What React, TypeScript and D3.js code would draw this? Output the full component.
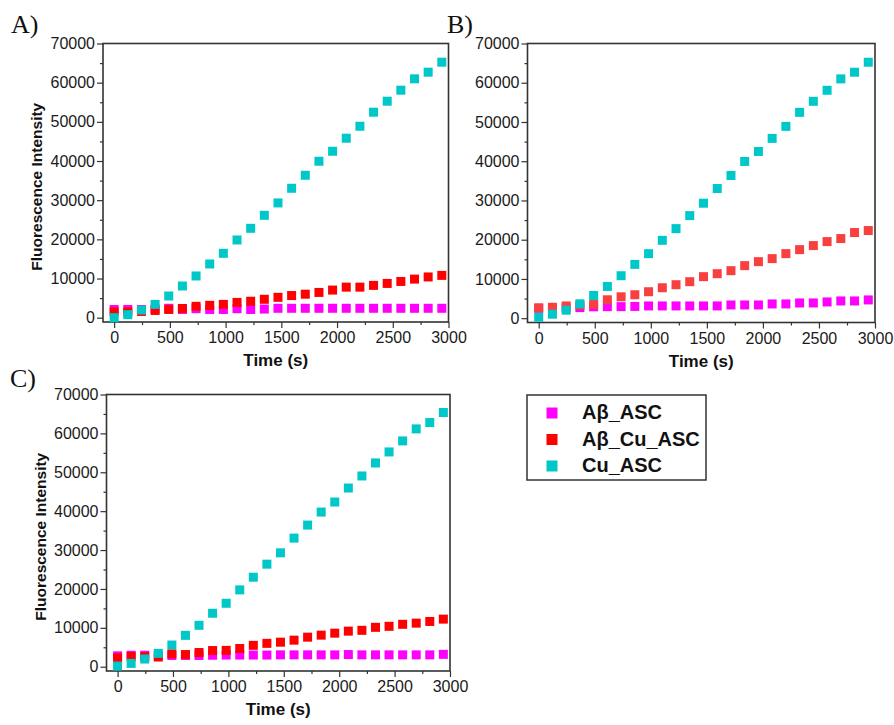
import React, { useRef, useEffect } from "react";
import * as d3 from "d3";

// sampling times (s)
const times = [0, 122.5, 245, 367.5, 490, 612.5, 735, 857.5, 980, 1102.5, 1225, 1347.5, 1470,
    1592.5, 1715, 1837.5, 1960, 2082.5, 2205, 2327.5, 2450, 2572.5, 2695, 2817.5, 2940];

const seriesNames = ["Aβ_ASC", "Aβ_Cu_ASC", "Cu_ASC"];

// panel A
const abAscA = [2100, 2100, 2100, 2200, 2400, 2100, 2300, 2100, 2100, 2300, 2100, 2200, 2400, 2400, 2400,
    2400, 2400, 2400, 2400, 2400, 2400, 2400, 2400, 2400, 2400];
const abCuAscA = [1500, 1500, 1600, 1850, 2100, 2350, 2900, 3150, 3400, 3900, 4200, 4700, 5200, 5650, 6000,
    6450, 7050, 7800, 7800, 8250, 8750, 9250, 9850, 10400, 10800];
const cuAscA = [0, 770, 1960, 3400, 5540, 8090, 10650, 13710, 16440, 19840, 22820, 26140, 29300, 33040, 36360,
    39940, 42490, 45820, 48880, 52460, 55270, 58080, 60980, 62680, 65230];

// panel B
const abAscB = [2500, 2500, 2600, 2700, 2900, 2940, 2940, 3000, 3120, 3120, 3120, 3120, 3120, 3120, 3370,
    3370, 3370, 3630, 3630, 3880, 3880, 4140, 4390, 4390, 4650];
const abCuAscB = [2650, 2780, 3120, 3300, 3540, 4690, 5450, 5970, 6740, 7760, 8530, 9300, 10580, 11340, 12110,
    13390, 14410, 15180, 16450, 17470, 18500, 19520, 20290, 21820, 22330];
const cuAscB = [250, 1020, 2040, 3660, 5790, 8090, 10820, 13710, 16440, 19840, 22820, 26140, 29300, 33040, 36360,
    39940, 42490, 45820, 48880, 52460, 55270, 58080, 60980, 62680, 65230];

// panel C
const abAscC = [2790, 2960, 2960, 2900, 2900, 2900, 2900, 2950, 3000, 3000, 3000, 3000, 3050, 3050, 3050,
    3050, 3050, 3130, 3050, 3050, 3050, 3050, 3050, 3050, 3180];
const abCuAscC = [2280, 2620, 2580, 2500, 3310, 3130, 3650, 4160, 4200, 4680, 5500, 6010, 6310, 6830, 7600,
    8120, 8630, 9150, 9360, 10130, 10390, 10910, 11210, 11640, 12240];
const cuAscC = [170, 860, 1975, 3440, 5580, 8070, 10650, 13750, 16320, 19760, 23020, 26370, 29290, 33070, 36420,
    39770, 42350, 45950, 49050, 52400, 55230, 58070, 61160, 62790, 65370];

const xTicks = [0, 500, 1000, 1500, 2000, 2500, 3000];
const xMinor = [250, 750, 1250, 1750, 2250, 2750];
const yTicks = [0, 10000, 20000, 30000, 40000, 50000, 60000, 70000];
const yMinor = [5000, 15000, 25000, 35000, 45000, 55000, 65000];

const W = 894, H = 725;
const FONT = "'Liberation Sans', Arial, sans-serif";

const panels = [
    { label: "A)", lx: 11, ly: 33, left: 103, top: 43.5, right: 448.5, bottom: 322, yTitle: true,
      red: "#ff0000", data: [abAscA, abCuAscA, cuAscA] },
    { label: "B)", lx: 447, ly: 33, left: 527.5, top: 43.5, right: 875, bottom: 322.5, yTitle: false,
      red: "#f84040", data: [abAscB, abCuAscB, cuAscB] },
    { label: "C)", lx: 10, ly: 387, left: 106.5, top: 394.5, right: 450, bottom: 671, yTitle: true,
      red: "#ff0000", data: [abAscC, abCuAscC, cuAscC] },
];

const App = () => {
    const ref = useRef();

    useEffect(() => {
        const root = d3.select(ref.current);
        root.selectAll("*").remove();
        const svg = root.append("svg")
            .attr("width", W)
            .attr("height", H)
            .style("position", "absolute")
            .style("left", 0)
            .style("top", 0)
            .style("background", "#fff");

        panels.forEach(p => {
            const x = d3.scaleLinear().domain([-100, 3000]).range([p.left, p.right]);
            const y = d3.scaleLinear().domain([-1100, 70000]).range([p.bottom, p.top]);
            const colors = ["#ff00ff", p.red, "#00c8c8"];
            const g = svg.append("g");

            // minor ticks
            g.append("g")
                .attr("transform", `translate(0,${p.bottom})`)
                .call(d3.axisBottom(x).tickValues(xMinor).tickFormat(() => "").tickSize(3).tickSizeOuter(0))
                .call(a => a.select(".domain").remove());
            g.append("g")
                .attr("transform", `translate(${p.left},0)`)
                .call(d3.axisLeft(y).tickValues(yMinor).tickFormat(() => "").tickSize(3).tickSizeOuter(0))
                .call(a => a.select(".domain").remove());

            const xa = g.append("g")
                .attr("transform", `translate(0,${p.bottom})`)
                .call(d3.axisBottom(x).tickValues(xTicks).tickFormat(d3.format("d")).tickSize(6).tickPadding(4).tickSizeOuter(0));
            xa.select(".domain").remove();
            xa.selectAll("text").attr("font-size", 16).attr("font-family", FONT).attr("fill", "#1a1a1a");

            const ya = g.append("g")
                .attr("transform", `translate(${p.left},0)`)
                .call(d3.axisLeft(y).tickValues(yTicks).tickFormat(d3.format("d")).tickSize(6).tickPadding(2).tickSizeOuter(0));
            ya.select(".domain").remove();
            ya.selectAll("text").attr("font-size", 16).attr("font-family", FONT).attr("fill", "#1a1a1a");

            g.selectAll(".tick line").attr("stroke", "#333").attr("stroke-width", 1.2);

            // frame
            g.append("rect")
                .attr("x", p.left).attr("y", p.top)
                .attr("width", p.right - p.left).attr("height", p.bottom - p.top)
                .attr("fill", "none").attr("stroke", "#333").attr("stroke-width", 1.6);

            // markers
            p.data.forEach((vals, si) => {
                g.append("g").selectAll("rect")
                    .data(vals)
                    .join("rect")
                    .attr("x", (d, i) => x(times[i]) - 4.5)
                    .attr("y", d => y(d) - 4.5)
                    .attr("width", 9)
                    .attr("height", 9)
                    .attr("fill", colors[si]);
            });

            g.append("text")
                .attr("x", (p.left + p.right) / 2)
                .attr("y", p.bottom + 44)
                .attr("text-anchor", "middle")
                .attr("font-family", FONT)
                .attr("font-weight", "bold")
                .attr("font-size", 17)
                .attr("fill", "#111")
                .text("Time (s)");

            if (p.yTitle) {
                g.append("text")
                    .attr("transform", `translate(${p.left - 65},${(p.top + p.bottom) / 2 + 4}) rotate(-90)`)
                    .attr("text-anchor", "middle")
                    .attr("dominant-baseline", "middle")
                    .attr("font-family", FONT)
                    .attr("font-weight", "bold")
                    .attr("font-size", 15.5)
                    .attr("fill", "#111")
                    .text("Fluorescence Intensity");
            }

            svg.append("text")
                .attr("x", p.lx)
                .attr("y", p.ly)
                .attr("font-family", "'Liberation Serif', 'Times New Roman', serif")
                .attr("font-size", 26)
                .attr("fill", "#111")
                .text(p.label);
        });

        // legend
        const lg = svg.append("g");
        lg.append("rect")
            .attr("x", 527).attr("y", 395)
            .attr("width", 179).attr("height", 85)
            .attr("fill", "#fff").attr("stroke", "#333").attr("stroke-width", 1.5);
        const legColors = ["#ff00ff", "#ff0000", "#00c8c8"];
        const rowY = d3.scalePoint().domain(seriesNames).range([413, 466]);
        seriesNames.forEach((name, i) => {
            lg.append("rect")
                .attr("x", 546.5).attr("y", rowY(name) - 5.5)
                .attr("width", 11).attr("height", 11)
                .attr("fill", legColors[i]);
            lg.append("text")
                .attr("x", 582).attr("y", rowY(name) + 1)
                .attr("dominant-baseline", "middle")
                .attr("font-family", FONT)
                .attr("font-weight", "bold")
                .attr("font-size", 20)
                .attr("fill", "#111")
                .text(name);
        });
    }, []);

    return <div ref={ref} />;
};

export default App;
